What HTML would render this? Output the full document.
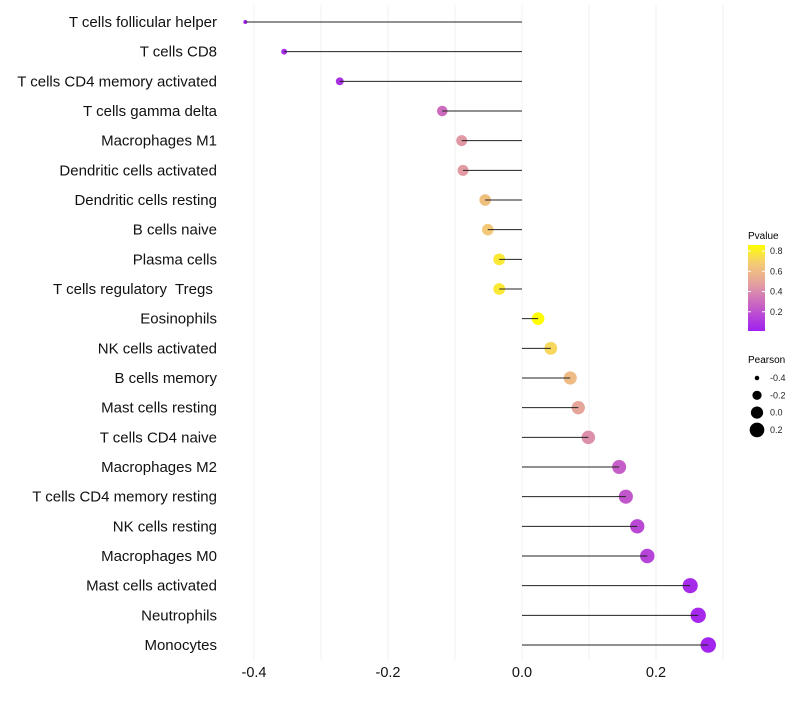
<!DOCTYPE html>
<html><head><meta charset="utf-8"><style>
body{margin:0;background:#fff;font-family:"Liberation Sans",sans-serif}
svg text{font-family:"Liberation Sans",sans-serif}
#ylab text{white-space:pre}
</style></head><body>
<svg id="chart" width="800" height="700" xmlns="http://www.w3.org/2000/svg">
<defs><linearGradient id="pg" x1="0" y1="1" x2="0" y2="0">
<stop offset="0" stop-color="#A020F0"/><stop offset="0.3" stop-color="#C862C4"/><stop offset="0.55" stop-color="#E4A0A0"/><stop offset="0.8" stop-color="#F5CE70"/><stop offset="1" stop-color="#FFFF00"/></linearGradient></defs>
<g id="grid"></g>
<g id="marks"></g>
<g id="ylab"></g>
<g id="xlab"></g>
<g>
<text x="748" y="239" font-size="10">Pvalue</text>
<rect x="748" y="245" width="17" height="86" fill="url(#pg)"/>
<g id="cbticks"></g>
</g>
<g>
<text x="748" y="363" font-size="10">Pearson</text>
<g id="sizeleg"></g>
</g>
</svg>
<script>
const categories=["T cells follicular helper","T cells CD8","T cells CD4 memory activated","T cells gamma delta","Macrophages M1","Dendritic cells activated","Dendritic cells resting","B cells naive","Plasma cells","T cells regulatory  Tregs ","Eosinophils","NK cells activated","B cells memory","Mast cells resting","T cells CD4 naive","Macrophages M2","T cells CD4 memory resting","NK cells resting","Macrophages M0","Mast cells activated","Neutrophils","Monocytes"];
const pearson=[-0.413,-0.355,-0.272,-0.119,-0.090,-0.088,-0.055,-0.051,-0.034,-0.034,0.024,0.043,0.072,0.084,0.099,0.145,0.155,0.172,0.187,0.251,0.263,0.278];
const pvalue=[0.02,0.05,0.08,0.30,0.45,0.46,0.62,0.66,0.78,0.78,0.86,0.72,0.60,0.50,0.42,0.25,0.22,0.17,0.15,0.05,0.04,0.03];
const xTicks=[-0.4,-0.2,0.0,0.2];
const xTickLabels=["-0.4","-0.2","0.0","0.2"];
const cbTicks=[0.8,0.6,0.4,0.2];
const sizeLegend=[-0.4,-0.2,0.0,0.2];
const NS="http://www.w3.org/2000/svg";
const X=v=>522+v*670;
const Y=i=>22+i*(623/21);
const pmin=0.01,pmax=0.86;
const smin=-0.413,smax=0.278;
const R=v=>Math.sqrt(4+Math.max(0,(v-smin)/(smax-smin))*(60-4));
const stops=[[0,[160,32,240]],[0.3,[200,98,196]],[0.55,[228,160,160]],[0.8,[245,206,112]],[1,[255,255,0]]];
function col(p){let t=Math.min(1,Math.max(0,(p-pmin)/(pmax-pmin)));for(let k=1;k<stops.length;k++){if(t<=stops[k][0]){const a=stops[k-1],b=stops[k],f=(t-a[0])/(b[0]-a[0]);return "rgb("+a[1].map((c,j)=>Math.round(c+(b[1][j]-c)*f)).join(",")+")";}}return "rgb(255,255,0)";}
function mk(tag,attrs,parent){const e=document.createElementNS(NS,tag);for(const k in attrs)e.setAttribute(k,attrs[k]);parent.appendChild(e);return e;}
const grid=document.getElementById('grid');
for(let g=-0.4;g<=0.31;g+=0.1){const l=mk('line',{x1:X(g),x2:X(g),y1:5,y2:660,stroke:'#f0f0f0','stroke-width':1},grid);

}
const marks=document.getElementById('marks'),ylab=document.getElementById('ylab');
categories.forEach((c,i)=>{
const d=mk('circle',{cx:X(pearson[i]),cy:Y(i),r:R(pearson[i]),fill:col(pvalue[i])},marks);


const s=mk('line',{x1:X(0),x2:X(pearson[i]),y1:Y(i),y2:Y(i),stroke:'#222','stroke-width':1},marks);


const t=mk('text',{x:217,y:Y(i)+5,'text-anchor':'end','font-size':15,fill:'#111'},ylab);t.textContent=c;


});
const xlab=document.getElementById('xlab');
xTicks.forEach((v,i)=>{const t=mk('text',{x:X(v),y:677,'text-anchor':'middle','font-size':14.5,fill:'#111'},xlab);t.textContent=xTickLabels[i];

});
const cb=document.getElementById('cbticks');
cbTicks.forEach(v=>{const y=331-(v-pmin)/(pmax-pmin)*86;
mk('line',{x1:748,x2:751,y1:y,y2:y,stroke:'#fff'},cb);mk('line',{x1:762,x2:765,y1:y,y2:y,stroke:'#fff'},cb);
const t=mk('text',{x:770,y:y+3,'font-size':9,fill:'#222'},cb);t.textContent=v.toFixed(1);

});
const sl=document.getElementById('sizeleg');
sizeLegend.forEach((v,i)=>{const y=378+i*17.3;
const c=mk('circle',{cx:757,cy:y,r:R(v),fill:'#000'},sl);


const t=mk('text',{x:770,y:y+3,'font-size':9,fill:'#222'},sl);t.textContent=v.toFixed(1);

});
</script>
</body></html>
